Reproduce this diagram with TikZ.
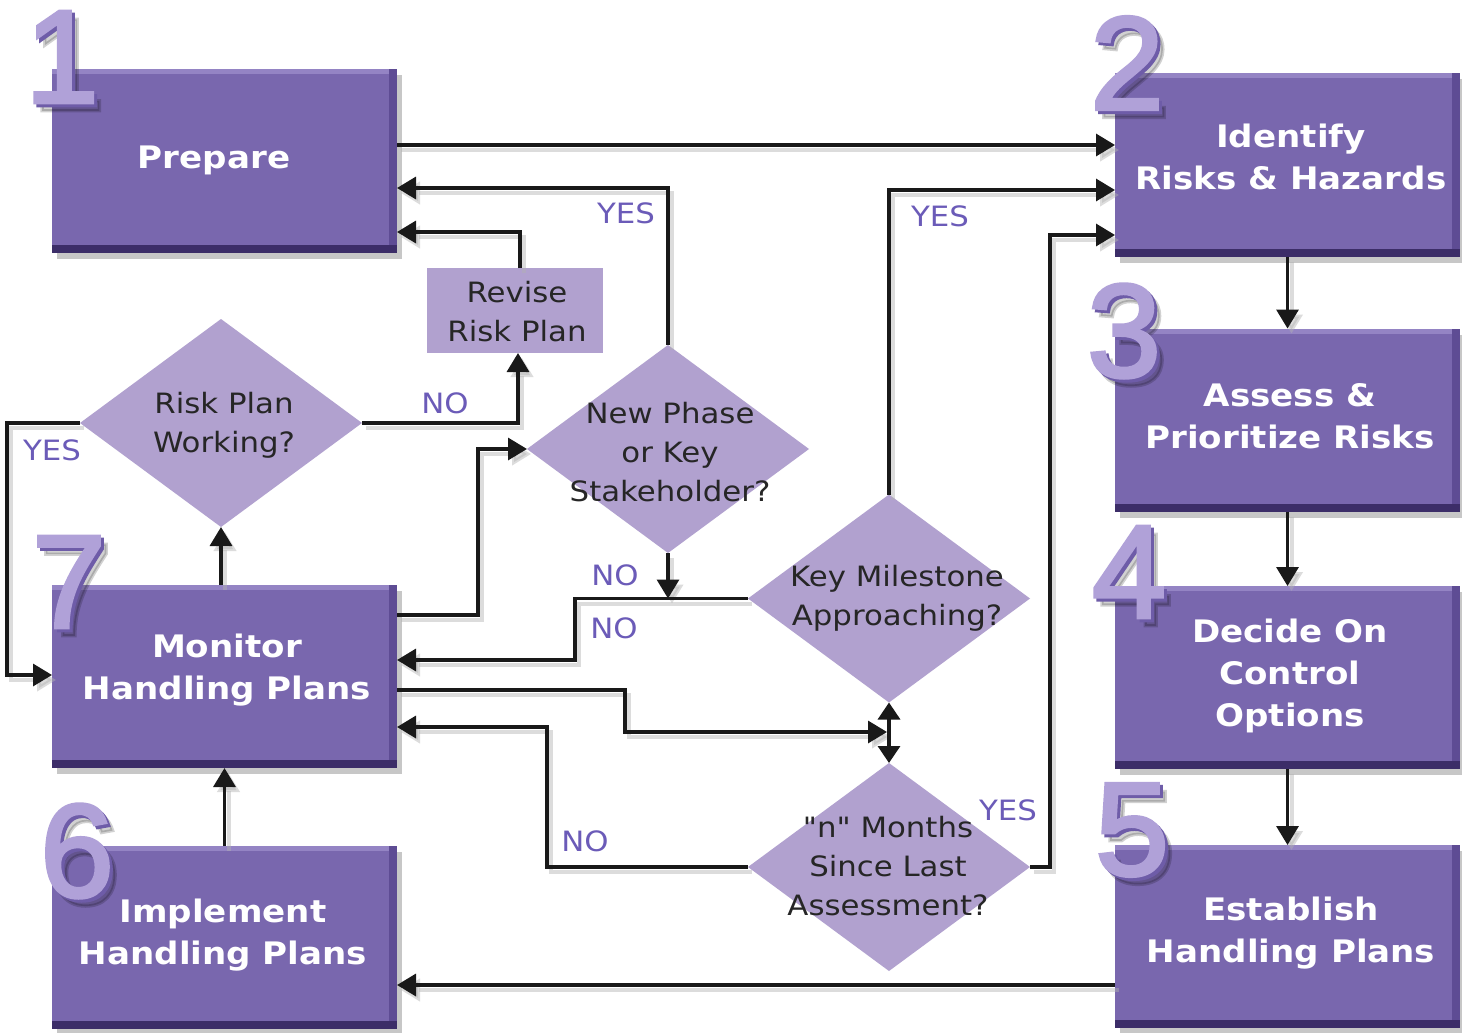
\documentclass[tikz,border=0pt]{standalone}
\usepackage{fontspec}
\setmainfont{DejaVu Sans}
\newfontfamily\txtfont[FakeStretch=1.1]{DejaVu Sans}
\newfontfamily\digfont[FakeBold=2.5]{Liberation Sans}
\usetikzlibrary{arrows.meta,shapes.geometric,shadows}
\definecolor{boxfill}{HTML}{7967AE}
\definecolor{boxlight}{HTML}{9484C4}
\definecolor{boxmid}{HTML}{5E4C94}
\definecolor{boxdark}{HTML}{3C2D68}
\definecolor{diafill}{HTML}{B1A1CF}
\definecolor{labc}{HTML}{6B5BB8}
\definecolor{digc}{HTML}{B0A1D8}
\definecolor{digd}{HTML}{6E5CA8}
\definecolor{diatxt}{HTML}{262626}
\tikzset{
  stepbox/.style={rectangle, fill=boxfill, minimum width=345pt, minimum height=183pt,
    inner sep=0pt, outer sep=0pt,
    drop shadow={shadow xshift=5pt, shadow yshift=-6pt, opacity=0.22, fill=black},
    path picture={
      \fill[boxlight] (path picture bounding box.north west) rectangle ([yshift=-5pt]path picture bounding box.north east);
      \fill[boxmid] ([xshift=-8pt]path picture bounding box.north east) rectangle (path picture bounding box.south east);
      \fill[boxdark] (path picture bounding box.south west) rectangle ([yshift=8pt]path picture bounding box.south east);
    }},
  boxtext/.style={align=center, text=white, inner sep=0pt,
    font=\txtfont\bfseries\fontsize{31}{42}\selectfont},
  dia/.style={diamond, fill=diafill, inner sep=0pt, outer sep=0pt,
    minimum width=282pt, minimum height=208pt},
  diatext/.style={align=center, text=diatxt, inner sep=0pt,
    font=\txtfont\fontsize{28}{39}\selectfont},
  revbox/.style={rectangle, fill=diafill, inner sep=0pt, outer sep=0pt,
    minimum width=176pt, minimum height=85pt},
  lab/.style={text=labc, inner sep=0pt, font=\txtfont\fontsize{28}{30}\selectfont},
  digit/.style={inner sep=0pt, text=digc, font=\digfont\fontsize{133}{133}\selectfont},
  digitdark/.style={digit, text=digd},
  digitshadow/.style={digit, text=black, opacity=0.18},
  conn/.style={draw=black!90, line width=3.3pt, line join=miter,
    -{Triangle[length=19pt,width=22pt]},
    preaction={draw=black!30, opacity=0.45, line width=4pt, transform canvas={shift={(4pt,-5pt)}}}},
  conn2/.style={draw=black!90, line width=3.3pt,
    {Triangle[length=17pt,width=22pt]}-{Triangle[length=17pt,width=22pt]}},
}
\begin{document}
\begin{tikzpicture}[x=1pt,y=-1pt]
\useasboundingbox (0,0) rectangle (1462,1033);
\fill[white] (0,0) rectangle (1462,1033);

% boxes
\node[stepbox] (prep)  at (224.5,161) {};
\node[stepbox] (ident) at (1287.5,165) {};
\node[stepbox] (asses) at (1287.5,420) {};
\node[stepbox] (decid) at (1287.5,677.5) {};
\node[stepbox] (estab) at (1287.5,936.5) {};
\node[stepbox] (mon)   at (224.5,676.5) {};
\node[stepbox] (impl)  at (224.5,937.5) {};

% light shapes
\node[revbox] (rev) at (515,310.5) {};
\node[dia] (rpw) at (221,423) {};
\node[dia] (nph) at (668,449) {};
\node[dia] (km)  at (889,598.5) {};
\node[dia] (nm)  at (889,867) {};

% connectors
\draw[conn] (prep.east |- 0,145) -- (ident.west |- 0,145);
\draw[conn] (nph.north) |- (prep.east |- 0,188);
\draw[conn] ([xshift=5pt]rev.north) |- (prep.east |- 0,232);
\draw[conn] (rpw.east) -| ([xshift=3pt]rev.south);
\draw[conn] (rpw.west) -- ++(-73,0) |- (mon.west |- 0,675);
\draw[conn] (mon.north -| rpw.south) -- (rpw.south);
\draw[conn] (mon.east |- 0,615) -- (478,615) |- (nph.west);
\draw[conn] (nph.south) -- (nph.south |- km.west);
\draw[conn] (km.west) -- (575,598.5) |- (mon.east |- 0,660);
\draw[conn] (km.north) |- (ident.west |- 0,190);
\draw[conn, shorten >=2pt] (mon.east |- 0,690) -- (625,690) |- (km.south |- 0,732);
\draw[conn2] (km.south) -- (nm.north);
\draw[conn] (nm.west) -- (547,867) |- (mon.east |- 0,727);
\draw[conn] (nm.east) -- (1050,867) |- (ident.west |- 0,235);
\draw[conn] (ident.south) -- (asses.north);
\draw[conn] (asses.south) -- (decid.north);
\draw[conn] (decid.south) -- (estab.north);
\draw[conn] (estab.west |- 0,985) -- (impl.east |- 0,985);
\draw[conn] (impl.north) -- (mon.south);

% texts
\node[boxtext] (prept)  at (214,160) {Prepare};
\node[boxtext] (identt) at (1291,157) {Identify\\Risks \& Hazards};
\node[boxtext] (assest) at (1290,416) {Assess \&\\Prioritize Risks};
\node[boxtext] (decidt) at (1290,676) {Decide On\\Control\\Options};
\node[boxtext] (estabt) at (1291,933) {Establish\\Handling Plans};
\node[boxtext] (mont)   at (227,670) {Monitor\\Handling Plans};
\node[boxtext] (implt)  at (223,935) {Implement\\Handling Plans};

\node[diatext] (revt) at (517,312) {Revise\\Risk Plan};
\node[diatext] (rpwt) at (224,425) {Risk Plan\\Working?};
\node[diatext] (npht) at (670,452) {New Phase\\or Key\\Stakeholder?};
\node[diatext] (kmt)  at (897,598) {Key Milestone\\Approaching?};
\node[diatext] (nmt)  at (888,866) {"n" Months\\Since Last\\Assessment?};

\node[lab] (l1) at (626,213) {YES};
\node[lab] (l2) at (445,403) {NO};
\node[lab] (l3) at (52,450) {YES};
\node[lab] (l4) at (615,575) {NO};
\node[lab] (l5) at (614,628) {NO};
\node[lab] (l6) at (940,216) {YES};
\node[lab] (l7) at (585,841) {NO};
\node[lab] (l8) at (1008,810) {YES};

% digits
\foreach \d/\x/\y in {1/62/57, 2/1127/63, 3/1124/331, 4/1129/572, 5/1132/830, 7/69/582, 6/77/851}{
  \node[digitshadow] (ds\d) at (\x+7,\y+8) {\d};
  \node[digitdark] (dd\d) at (\x+3,\y+3) {\d};
  \node[digit] (dg\d) at (\x,\y) {\d};
}
\end{tikzpicture}
\end{document}
